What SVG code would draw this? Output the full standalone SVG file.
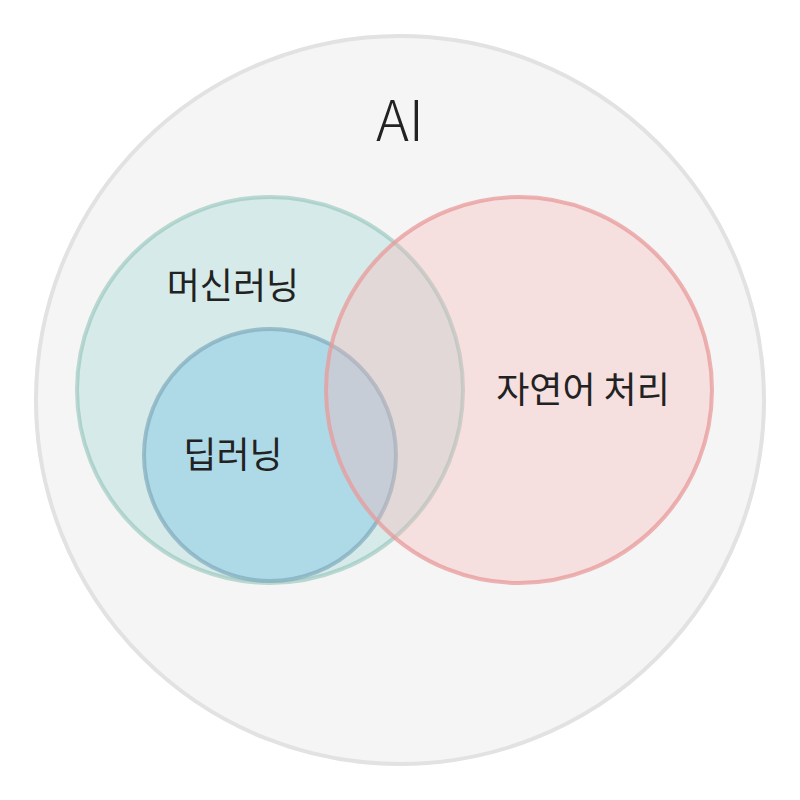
<svg xmlns="http://www.w3.org/2000/svg" width="800" height="800" viewBox="0 0 800 800">
<style>
text{font-family:"Noto Sans CJK KR","Noto Sans",sans-serif;fill:#222;text-anchor:middle;dominant-baseline:central}
circle{stroke-width:4}
</style>
<rect width="800" height="800" fill="#fff"/>
<g id="ai"><circle cx="400" cy="400" r="364" fill="#f5f5f5" stroke="#e2e2e2"/>
<text x="400" y="116" font-size="56" font-weight="300">AI</text></g>
<g id="ml"><circle cx="270" cy="390" r="193" fill="#9fd8d4" fill-opacity="0.35" stroke="#88bfb3" stroke-opacity="0.55"/></g>
<g id="dl"><circle cx="270" cy="455" r="126" fill="#8ecae6" fill-opacity="0.55" stroke="#7fa9bb" stroke-opacity="0.7"/></g>
<g id="nlp"><circle cx="519" cy="390" r="193" fill="#f5b7b7" fill-opacity="0.35" stroke="#e89a9a" stroke-opacity="0.75"/></g>
<text x="233" y="283" font-size="36">머신러닝</text>
<text x="233" y="452" font-size="36">딥러닝</text>
<text x="583" y="387" font-size="36">자연어 처리</text>
</svg>
